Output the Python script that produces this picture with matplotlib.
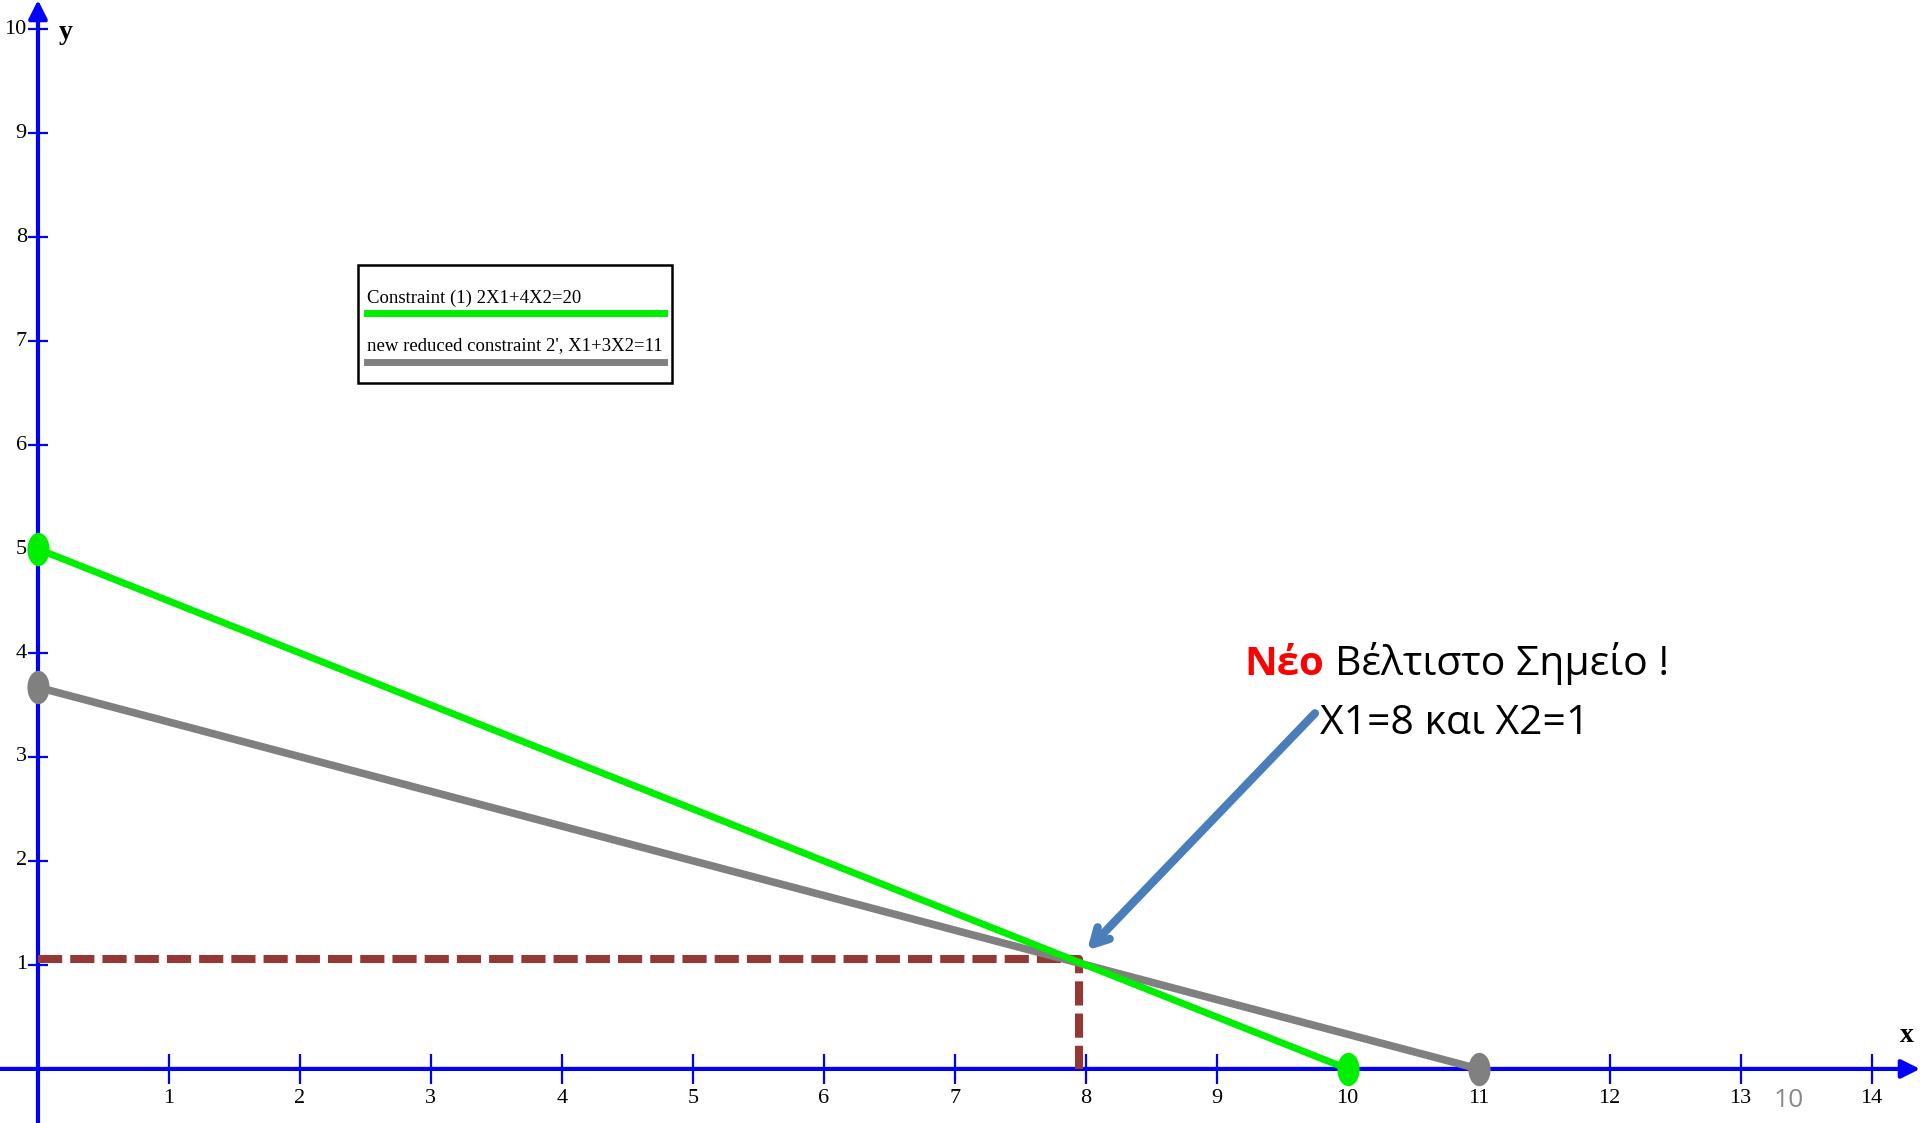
import numpy as np
import matplotlib
matplotlib.use("Agg")
from matplotlib import pyplot as plt
from matplotlib.path import Path
from matplotlib.patches import Rectangle
from matplotlib.lines import Line2D

# constraint lines (end points on the axes)
c1_x = [0, 10]
c1_y = [5, 0]
c2_x = [0, 11]
c2_y = [3.67, 0]

# optimum guide lines, as drawn on the slide
opt_x = 7.95
opt_y = 1.06
arrow_tip = (8.01, 1.14)
arrow_tail = (9.75, 3.42)

x_ticks = list(range(1, 15))
y_ticks = list(range(1, 11))

legend_labels = ["Constraint (1) 2X1+4X2=20", "new reduced constraint 2', X1+3X2=11"]

green = "#00ee00"
grey = "#808080"
brown = "#953735"
axblue = "#0000ff"

fig = plt.figure(figsize=(19.2, 11.23), dpi=100)
ax = fig.add_axes([0, 0, 1, 1])
ax.set_xlim(-0.29, 14.37)
ax.set_ylim(-0.52, 10.28)
ax.axis("off")

# axes with arrows
ax.annotate("", xy=(14.37, 0), xytext=(-0.29, 0),
            arrowprops=dict(arrowstyle="-|>", color=axblue, lw=3, mutation_scale=28, shrinkA=0, shrinkB=0))
ax.annotate("", xy=(0, 10.28), xytext=(0, -0.52),
            arrowprops=dict(arrowstyle="-|>", color=axblue, lw=3, mutation_scale=28, shrinkA=0, shrinkB=0))
ax.plot(x_ticks, np.zeros(len(x_ticks)), ls="none", marker="|", ms=21, mew=1.6, color=axblue)
ax.plot(np.zeros(len(y_ticks)), y_ticks, ls="none", marker="_", ms=14, mew=1.6, color=axblue)

for t in x_ticks:
    ax.text(t, -0.28, str(t), ha="center", va="center", fontsize=16, family="Liberation Serif")
for t in y_ticks:
    ax.text(-0.085, t, str(t), ha="right", va="center", fontsize=16, family="Liberation Serif")

ax.text(14.27, 0.32, "x", ha="center", va="center", fontsize=20, fontweight="bold", family="Liberation Serif")
ax.text(0.21, 9.97, "y", ha="center", va="center", fontsize=20, fontweight="bold", family="Liberation Serif")

# dashed guides to the optimum
ax.plot([0, opt_x, opt_x], [opt_y, opt_y, 0], color=brown, lw=5.8, dashes=(3, 1), zorder=3)

# constraint lines with elliptical end markers
circ = Path.unit_circle()
ell = Path(circ.vertices * [0.65, 1.0], circ.codes)
ax.plot(c1_x, c1_y, color=green, lw=5, marker=ell, ms=23, zorder=4)
ax.plot(c2_x, c2_y, color=grey, lw=5.5, marker=ell, ms=23, zorder=3.5)

# annotation
ax.annotate("", xy=arrow_tip, xytext=arrow_tail,
            arrowprops=dict(arrowstyle="->,head_length=1.1,head_width=0.6", color="#4a7ebb",
                            lw=6, shrinkA=0, shrinkB=0), zorder=6)
ax.text(9.21, 3.79, "Νέο", color="#ff0000", fontsize=29, fontweight="bold", family="Open Sans", va="baseline")
ax.text(9.90, 3.79, "Βέλτιστο Σημείο !", color="black", fontsize=29.5, family="Open Sans", va="baseline")
ax.text(9.79, 3.22, "X1=8 και X2=1", color="black", fontsize=29.5, family="Open Sans", va="baseline")

# page number
ax.text(13.37, -0.30, "10", color="#898989", fontsize=19, family="Open Sans", ha="center", va="center")

# legend box drawn by hand (text above each line sample)
fig.patches.append(Rectangle((358 / 1920, 1 - 383 / 1123), 314 / 1920, 118 / 1123,
                             transform=fig.transFigure, fill=False, ec="black", lw=1.8))
leg_colors = [green, grey]
for i, (lab, col) in enumerate(zip(legend_labels, leg_colors)):
    base = [303, 350][i]
    liney = [313, 362][i]
    fig.text(367 / 1920, 1 - base / 1123, lab, fontsize=13.5, family="Liberation Serif", va="baseline")
    fig.lines.append(Line2D([367 / 1920, 664 / 1920], [1 - liney / 1123] * 2, transform=fig.transFigure,
                            color=col, lw=5))

fig.savefig("out.png", dpi=100)
